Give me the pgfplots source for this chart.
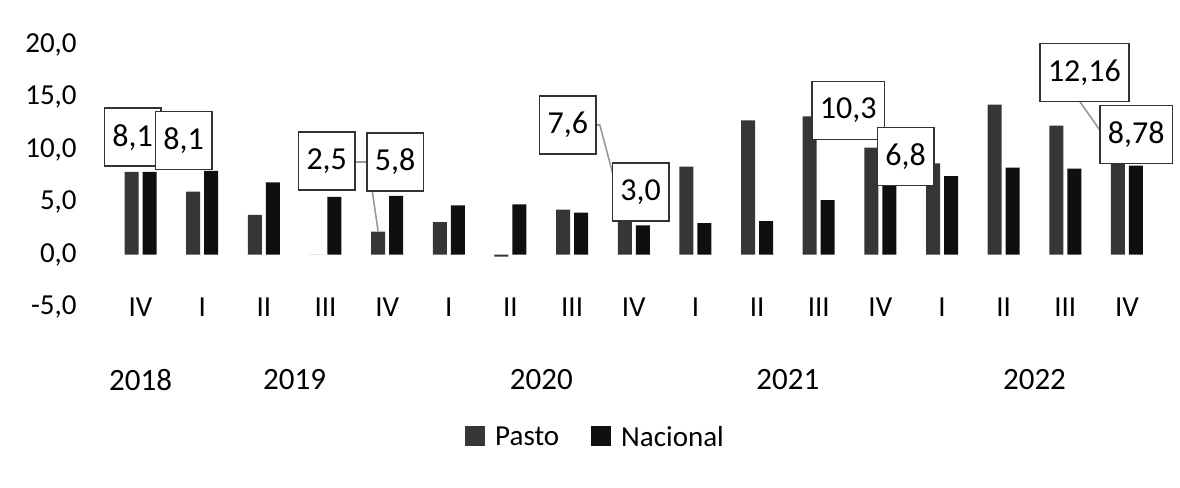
\documentclass[border=0pt]{standalone}
\usepackage{pgfplots}
\pgfplotsset{compat=1.18}
\usepackage{fontspec}
\setmainfont{Carlito}
\definecolor{pasto}{HTML}{363636}
\definecolor{nacional}{HTML}{0F0F0F}
\definecolor{leader}{HTML}{9A9A9A}
\begin{document}
\begin{tikzpicture}[
    box/.style={draw=black!80, fill=white, line width=0.8pt, minimum height=29pt,
        inner xsep=4pt, font=\fontsize{16}{19}\selectfont},
    year/.style={font=\fontsize{15.5}{18}\selectfont, yshift=-36.5pt},
]
\path[use as bounding box] (-54.85pt,-90pt) rectangle (535.1pt,153.5pt);
\begin{axis}[
    scale only axis,
    width=524pt, height=131pt,
    xmin=-0.5, xmax=16.5, ymin=-5, ymax=20,
    ytick={-5,0,...,20},
    xtick={0,...,16},
    xticklabels={IV,I,II,III,IV,I,II,III,IV,I,II,III,IV,I,II,III,IV},
    axis line style={draw=none},
    major tick length=0pt,
    ybar=2pt, bar width=7pt,
    clip=false,
    /pgf/number format/use comma,
    /pgf/number format/fixed,
    /pgf/number format/fixed zerofill,
    /pgf/number format/precision=1,
    /pgf/number format/assume math mode=true,
    tick label style={font=\fontsize{14.5}{17}\selectfont},
    xticklabel style={anchor=center},
    yticklabel style={xshift=-13pt},
    legend style={at={(0.4645,-0.5)}, anchor=center, draw=none, fill=none,
        legend columns=2, font=\fontsize{14.5}{17}\selectfont,
        /tikz/every odd column/.append style={column sep=3pt},
        /tikz/every even column/.append style={column sep=14pt}},
    legend image code/.code={\fill[#1] (0pt,-4pt) rectangle (10pt,6pt);},
]
% Pasto
\addplot[fill=pasto, draw=none] coordinates {
    (0,7.9) (1,6.0) (2,3.8) (3,0) (4,2.2) (5,3.1) (6,-0.2) (7,4.3) (8,3.4)
    (9,8.4) (10,12.8) (11,13.2) (12,10.2) (13,8.7) (14,14.3) (15,12.3) (16,9.4)};
% Nacional
\addplot[fill=nacional, draw=none] coordinates {
    (0,7.9) (1,8.0) (2,6.9) (3,5.5) (4,5.6) (5,4.7) (6,4.8) (7,4.0) (8,2.8)
    (9,3.0) (10,3.2) (11,5.2) (12,6.6) (13,7.5) (14,8.3) (15,8.2) (16,8.5)};
\legend{Pasto, Nacional}

% leader lines
\draw[leader, line width=0.8pt] (axis cs:3.46,8.84) -- (axis cs:3.69,8.84) -- (axis cs:3.854,2.2);
\draw[leader, line width=0.8pt] (axis cs:7.37,12.37) -- (axis cs:7.45,12.37) -- (axis cs:7.854,3.4);
\draw[leader, line width=0.8pt] (axis cs:15.23,14.65) -- (axis cs:15.854,9.4);

% labels
\node[box] at (axis cs:-0.13,11.2) {8,1};
\node[box] at (axis cs:0.70,10.9) {8,1};
\node[box] at (axis cs:3.02,8.93) {2,5};
\node[box] at (axis cs:4.13,8.84) {5,8};
\node[box] at (axis cs:6.93,12.36) {7,6};
\node[box] at (axis cs:8.11,5.97) {3,0};
\node[box] at (axis cs:11.48,13.75) {10,3};
\node[box] at (axis cs:12.41,9.36) {6,8};
\node[box] at (axis cs:15.31,17.38) {12,16};
\node[box] at (axis cs:16.15,11.46) {8,78};

% years
\node[year] at (axis cs:0,-5) {2018};
\node[year] at (axis cs:2.5,-5) {2019};
\node[year] at (axis cs:6.5,-5) {2020};
\node[year] at (axis cs:10.5,-5) {2021};
\node[year] at (axis cs:14.5,-5) {2022};
\end{axis}
\end{tikzpicture}
\end{document}
